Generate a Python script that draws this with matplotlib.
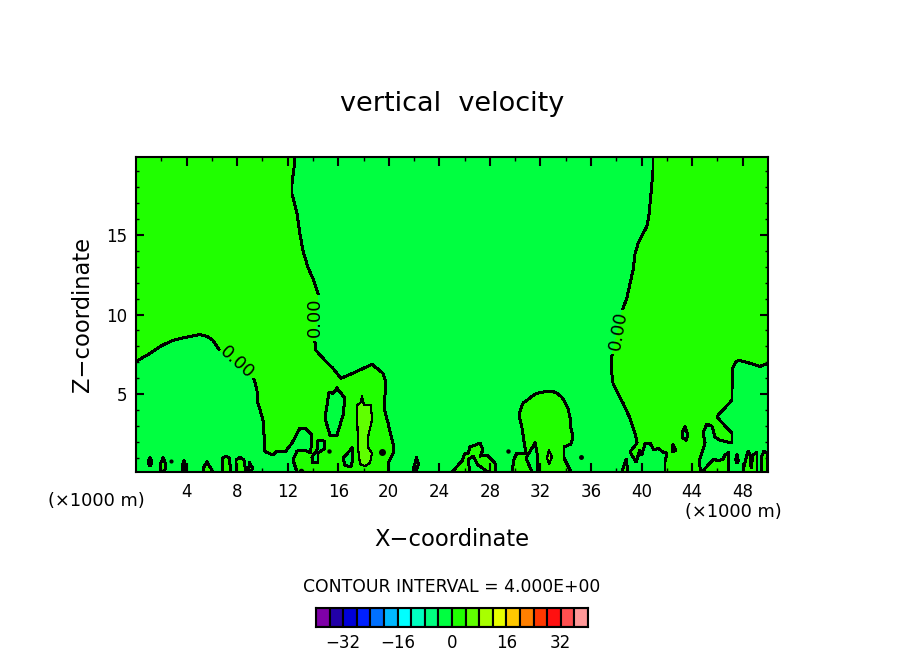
import matplotlib
matplotlib.use('Agg')
import matplotlib.pyplot as plt

# colour table, one colour per 4 unit interval from -40 to 40
levels = list(range(-40, 40, 4))
colors = ['#7f00a8', '#2200a8', '#0000d8', '#0020ff', '#0070ff', '#00b8ff', '#00ffff', '#00ffc0', '#00ff80', '#00ff40',
          '#20ff00', '#60ff00', '#a8ff00', '#e8ff00', '#ffc800', '#ff8000', '#ff3800', '#ff1010', '#ff5050', '#ff9898']
bar_ticks = [-32, -16, 0, 16, 32]
bar_labels = ['\u221232', '\u221216', '0', '16', '32']
x_ticks = list(range(4, 50, 4))
z_ticks = [5, 10, 15]
xlim = (0, 50)
zlim = (0.125, 19.875)

# zero contour, left side (split where the labels sit)
left_a_x = [0, 1.11, 2.06, 2.93, 3.88, 5.06, 5.62, 6.09, 6.57]
left_a_z = [7.06, 7.56, 8.06, 8.38, 8.56, 8.75, 8.62, 8.38, 7.81]
left_b_x = [9.34, 9.57, 9.65, 10.05, 10.13, 10.13, 10.28, 10.84, 11.16, 11.79, 12.34, 12.97, 13.37, 13.92, 13.92, 13.77, 13.37, 12.74, 12.42, 12.74]
left_b_z = [5.94, 5.25, 4.44, 3.38, 2.44, 1.5, 1.38, 1.19, 1.44, 1.38, 1.94, 2.88, 2.88, 2.44, 1.94, 1.31, 1.5, 1.44, 0.88, 0.125]
left_c_x = [19.94, 19.94, 20.41, 20.33, 19.94, 19.62, 19.78, 19.54, 18.67, 17.33, 16.22, 15.59, 14.95, 14.24, 14.16]
left_c_z = [0.125, 0.69, 1.38, 1.94, 3.19, 4.19, 5.69, 6.31, 6.88, 6.38, 6.0, 6.62, 7.12, 7.75, 8.25]
left_d_x = [14.4, 14.0, 13.61, 13.21, 12.97, 12.74, 12.34, 12.34, 12.5, 12.58]
left_d_z = [11.31, 12.25, 12.94, 14.0, 15.06, 16.31, 17.56, 18.19, 19.19, 19.875]

# zero contour, right side
right_a_x = [40.9, 40.9, 40.74, 40.59, 40.43, 40.11, 39.72, 39.48, 39.32, 39.08, 38.84, 38.53]
right_a_z = [19.875, 19.0, 17.56, 16.31, 15.56, 15.06, 14.44, 13.81, 12.75, 11.94, 11.06, 10.38]
right_b_x = [37.66, 37.58, 37.74, 37.97, 38.53, 39.08, 39.4, 39.56, 39.64, 39.08, 39.56, 39.87, 40.03, 40.27, 40.66, 40.98, 41.3, 41.69, 42.01, 41.85, 41.85]
right_b_z = [7.44, 6.69, 5.69, 5.31, 4.44, 3.5, 2.75, 2.31, 1.94, 1.38, 0.75, 1.5, 1.19, 1.94, 1.94, 1.5, 1.62, 1.38, 1.31, 0.75, 0.125]
right_c_x = [44.7, 44.54, 45.02, 44.86, 45.17, 45.57, 45.81, 46.2, 47.15, 47.15, 46.04, 46.04, 47.15, 47.15, 47.23, 47.47, 47.78, 48.58, 49.37, 50]
right_c_z = [0.125, 0.75, 1.94, 2.62, 3.12, 3.0, 2.31, 2.12, 1.94, 2.56, 3.5, 3.69, 4.62, 5.31, 6.69, 7.06, 7.12, 6.94, 6.75, 6.94]

# positive islands in the negative background
island_x = [
    [1.11, 1.27, 1.11, 0.95],
    [2.14, 2.37, 2.25, 2.0, 1.9],
    [3.8, 3.95, 3.9, 3.7, 3.65],
    [5.6, 5.9, 6.05, 5.35, 5.35],
    [6.8, 6.88, 7.12, 7.36, 7.52],
    [7.91, 7.91, 8.23, 8.54, 8.7],
    [9.0, 9.2, 9.15, 8.85],
    [22.2, 22.0, 21.9, 22.1, 22.35],
    [25.0, 25.79, 26.03, 26.27, 26.42, 27.22, 27.45, 27.22, 27.77, 28.4, 28.48],
    [29.75, 29.91, 30.14, 30.78, 30.78, 30.54, 30.3, 30.46, 30.62, 30.93, 31.33, 31.72, 32.12, 32.52, 32.91, 33.31, 33.7, 33.94, 34.18, 34.34, 34.41, 34.57, 34.41, 33.86, 33.86, 34.41],
    [38.45, 38.77, 38.92],
    [44.78, 45.41, 45.73, 46.04, 46.44, 46.6, 46.91, 46.91],
    [47.55, 47.65, 47.55, 47.45],
    [48.02, 48.18, 48.42, 48.58, 48.66, 48.81, 49.13, 49.13],
    [49.53, 49.45, 49.68, 49.92, 50],
]
island_z = [
    [1.0, 0.75, 0.5, 0.75],
    [1.0, 0.6, 0.125, 0.125, 0.6],
    [0.81, 0.5, 0.125, 0.125, 0.5],
    [0.75, 0.4, 0.125, 0.125, 0.4],
    [0.125, 1.0, 1.12, 1.0, 0.125],
    [0.125, 0.88, 1.06, 0.88, 0.125],
    [0.69, 0.4, 0.125, 0.125],
    [1.0, 0.5, 0.125, 0.125, 0.6],
    [0.125, 0.81, 1.31, 1.31, 1.69, 1.94, 1.5, 1.12, 1.19, 0.69, 0.125],
    [0.125, 0.94, 1.31, 1.31, 1.62, 2.88, 3.69, 4.12, 4.44, 4.62, 4.88, 5.06, 5.12, 5.19, 5.19, 5.06, 4.81, 4.5, 4.12, 3.5, 2.88, 2.31, 1.88, 1.69, 1.0, 0.125],
    [0.125, 0.94, 0.125],
    [0.125, 0.69, 0.94, 0.81, 0.94, 1.19, 1.38, 0.125],
    [1.19, 0.8, 0.69, 0.9],
    [0.125, 0.75, 1.44, 1.19, 0.38, 1.19, 1.38, 0.125],
    [0.125, 1.0, 1.44, 1.31, 0.125],
]

# negative holes inside the positive regions
hole_x = [
    [15.9, 15.59, 15.27, 14.95, 15.35, 15.9, 16.38, 16.53],
    [14.4, 14.95, 14.95, 14.4, 14.4, 14.0, 13.92, 14.32],
    [17.09, 17.17, 17.01, 16.53, 16.38],
    [26.42, 26.27, 26.66, 27.06, 27.85],
    [31.57, 30.85, 31.33, 31.8, 31.72],
    [43.43, 43.67, 43.51, 43.2, 43.27],
    [42.48, 42.72, 42.48, 42.41],
]
hole_z = [
    [5.38, 5.06, 5.12, 3.5, 2.44, 2.44, 3.69, 4.75],
    [2.12, 2.06, 1.62, 1.31, 0.75, 0.69, 1.06, 1.5],
    [1.62, 1.06, 0.44, 0.56, 1.0],
    [0.125, 0.88, 1.12, 0.56, 0.125],
    [1.94, 1.0, 0.125, 0.125, 1.38],
    [2.94, 2.44, 2.12, 2.31, 2.69],
    [1.81, 1.5, 1.38, 1.69],
]

# the 4.0 contour
inner_x = [
    [17.88, 18.04, 18.59, 18.67, 18.35, 18.35, 18.67, 18.51, 18.12, 17.72, 17.56, 17.48, 17.8],
    [32.67, 32.91, 32.67, 32.52],
]
inner_z = [
    [4.88, 4.31, 4.31, 3.38, 2.31, 1.69, 1.31, 0.69, 0.5, 0.62, 1.69, 4.31, 4.5],
    [1.5, 1.06, 0.62, 1.0],
]

# tiny closed contours
dot_x = [15.27, 19.46, 2.77, 29.43, 35.2, 13.05]
dot_z = [1.44, 1.38, 0.81, 1.44, 1.06, 0.2]
dot_size = [2.2, 4.0, 2.0, 2.2, 2.5, 3.0]

# contour labels
label_x = [14.16, 8.0, 38.2]
label_z = [9.8, 7.0, 9.0]
label_rot = [90, -42, 80]

BG = colors[9]
POS = colors[10]
INNER = colors[11]
LW = 1.4

fig = plt.figure(figsize=(9.04, 6.54), dpi=100)
ax = fig.add_axes([136 / 904, (654 - 472) / 654, (768 - 136) / 904, (472 - 157) / 654])
ax.set_facecolor(BG)
ax.set_xlim(xlim)
ax.set_ylim(zlim)

# filled regions
ax.fill([0] + left_a_x + left_b_x + left_c_x + left_d_x + [0],
        [zlim[1]] + left_a_z + left_b_z + left_c_z + left_d_z + [zlim[1]],
        color=POS, lw=0, antialiased=False)
ax.fill(right_a_x + right_b_x + right_c_x + [xlim[1]],
        right_a_z + right_b_z + right_c_z + [zlim[1]],
        color=POS, lw=0, antialiased=False)
for xs, zs in zip(island_x, island_z):
    ax.fill(xs, zs, color=POS, lw=0, antialiased=False)
for xs, zs in zip(hole_x, hole_z):
    ax.fill(xs, zs, color=BG, lw=0, antialiased=False)
for xs, zs in zip(inner_x, inner_z):
    ax.fill(xs, zs, color=INNER, lw=0, antialiased=False)

# contour lines
for xs, zs in [(left_a_x, left_a_z), (left_b_x, left_b_z), (left_c_x, left_c_z), (left_d_x, left_d_z),
               (right_a_x, right_a_z), (right_b_x, right_b_z), (right_c_x, right_c_z)]:
    ax.plot(xs, zs, color='k', lw=LW, antialiased=False)
for xs, zs in zip(island_x + hole_x, island_z + hole_z):
    ax.plot(xs + xs[:1], zs + zs[:1], color='k', lw=LW, antialiased=False)
for xs, zs in zip(inner_x, inner_z):
    ax.plot(xs + xs[:1], zs + zs[:1], color='k', lw=0.8, antialiased=False)
for x, z, s in zip(dot_x, dot_z, dot_size):
    ax.plot([x], [z], 'o', color='k', ms=s, antialiased=False)

for x, z, r in zip(label_x, label_z, label_rot):
    ax.text(x, z, '0.00', rotation=r, rotation_mode='anchor', ha='center', va='center', fontsize=13)

# axes, ticks on all sides and pointing in
ax.set_xticks(x_ticks)
ax.set_xticks(range(2, 50, 4), minor=True)
ax.set_yticks(z_ticks)
ax.set_yticks([z for z in range(1, 20) if z not in z_ticks], minor=True)
ax.tick_params(axis='x', which='major', direction='in', length=6.5, width=1.5, top=True, labelsize=12, pad=8)
ax.tick_params(axis='x', which='minor', direction='in', length=3, width=1.0, top=True)
ax.tick_params(axis='y', which='major', direction='in', length=5.5, width=1.5, right=True, labelsize=12, pad=6)
ax.tick_params(axis='y', which='minor', direction='in', length=2.2, width=1.0, right=True)
for s in ax.spines.values():
    s.set_linewidth(1.5)

fig.text(452 / 904, 1 - 104 / 654, 'vertical  velocity', ha='center', va='center', fontsize=19.5)
fig.text(452 / 904, 1 - 540 / 654, 'X\u2212coordinate', ha='center', va='center', fontsize=16.3)
fig.text(83 / 904, 1 - 314 / 654, 'Z\u2212coordinate', ha='center', va='center', rotation=90, fontsize=16.3)
fig.text(96 / 904, 1 - 501 / 654, '(\u00d71000 m)', ha='center', va='center', fontsize=12.8)
fig.text(733 / 904, 1 - 512 / 654, '(\u00d71000 m)', ha='center', va='center', fontsize=12.8)
fig.text(452 / 904, 1 - 587 / 654, 'CONTOUR INTERVAL = 4.000E+00', ha='center', va='center', fontsize=12.4)

# colour key
cax = fig.add_axes([316 / 904, (654 - 627) / 654, (588 - 316) / 904, (627 - 608) / 654])
cax.bar(levels, [1] * len(levels), width=4, align='edge', color=colors, edgecolor='k', linewidth=1.5)
cax.set_xlim(-40, 40)
cax.set_ylim(0, 1)
cax.set_yticks([])
cax.set_xticks(bar_ticks)
cax.set_xticklabels(bar_labels, fontsize=12)
cax.tick_params(axis='x', length=0, pad=5)
for s in cax.spines.values():
    s.set_linewidth(1.5)

fig.savefig('out.png', dpi=100)
